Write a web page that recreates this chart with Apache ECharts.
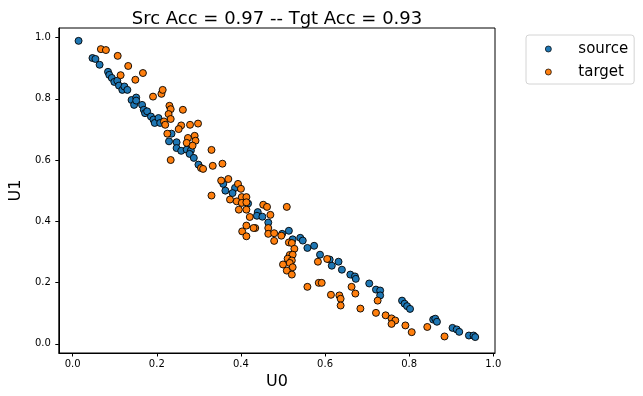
<!DOCTYPE html>
<html>
<head>
<meta charset="utf-8">
<script src="https://cdn.jsdelivr.net/npm/echarts@6/dist/echarts.min.js"></script>
<style>
html,body{margin:0;padding:0;background:#fff;}
#chart{width:643px;height:396px;}
</style>
</head>
<body>
<div id="chart"></div>
<script>
var titleText = 'Src Acc = 0.97 -- Tgt Acc = 0.93';
var seriesNames = ['source', 'target'];
var xTicks = [0.0, 0.2, 0.4, 0.6, 0.8, 1.0];
var yTicks = [0.0, 0.2, 0.4, 0.6, 0.8, 1.0];

var sourcePoints = [
[0.014,0.989],[0.047,0.933],[0.054,0.930],[0.064,0.911],[0.084,0.888],[0.087,0.878],
[0.093,0.868],[0.099,0.855],[0.106,0.859],[0.110,0.843],[0.118,0.829],[0.123,0.840],
[0.130,0.829],[0.140,0.796],[0.146,0.780],[0.151,0.804],[0.151,0.794],[0.165,0.780],
[0.169,0.764],[0.172,0.753],[0.177,0.759],[0.186,0.742],[0.192,0.732],[0.195,0.721],
[0.204,0.737],[0.208,0.721],[0.235,0.686],[0.229,0.661],[0.247,0.658],[0.247,0.639],
[0.258,0.630],[0.271,0.634],[0.281,0.631],[0.278,0.620],[0.288,0.607],[0.299,0.585],
[0.358,0.522],[0.386,0.509],[0.363,0.500],[0.380,0.492],[0.417,0.458],[0.440,0.430],
[0.438,0.418],[0.451,0.415],[0.465,0.396],[0.498,0.359],[0.514,0.369],[0.523,0.341],
[0.541,0.346],[0.547,0.337],[0.558,0.313],[0.574,0.320],[0.588,0.291],[0.611,0.275],
[0.616,0.255],[0.632,0.268],[0.640,0.242],[0.660,0.226],[0.671,0.220],[0.673,0.212],
[0.705,0.197],[0.721,0.177],[0.731,0.174],[0.731,0.158],[0.783,0.141],[0.789,0.131],
[0.795,0.123],[0.802,0.114],[0.857,0.079],[0.862,0.082],[0.866,0.072],[0.903,0.052],
[0.913,0.047],[0.919,0.039],[0.942,0.027],[0.953,0.027],[0.957,0.022]
];

var targetPoints = [
[0.067,0.962],[0.079,0.959],[0.107,0.940],[0.132,0.907],[0.167,0.884],[0.114,0.877],
[0.149,0.862],[0.191,0.807],[0.211,0.816],[0.214,0.829],[0.230,0.777],[0.233,0.766],
[0.228,0.750],[0.233,0.734],[0.217,0.726],[0.220,0.715],[0.262,0.764],[0.258,0.713],
[0.252,0.701],[0.279,0.715],[0.298,0.719],[0.225,0.686],[0.274,0.672],[0.290,0.679],
[0.292,0.663],[0.271,0.656],[0.285,0.647],[0.330,0.633],[0.233,0.600],[0.305,0.574],
[0.310,0.571],[0.333,0.581],[0.356,0.588],[0.353,0.533],[0.370,0.538],[0.393,0.522],
[0.400,0.506],[0.330,0.484],[0.374,0.471],[0.390,0.465],[0.402,0.479],[0.413,0.479],
[0.402,0.460],[0.413,0.462],[0.395,0.438],[0.413,0.438],[0.421,0.414],[0.453,0.454],
[0.462,0.447],[0.509,0.447],[0.470,0.421],[0.434,0.378],[0.465,0.378],[0.403,0.367],
[0.413,0.386],[0.430,0.378],[0.413,0.351],[0.465,0.359],[0.479,0.361],[0.479,0.336],
[0.496,0.353],[0.514,0.331],[0.521,0.329],[0.527,0.310],[0.516,0.290],[0.523,0.291],
[0.511,0.278],[0.521,0.272],[0.516,0.264],[0.500,0.259],[0.523,0.250],[0.509,0.239],
[0.521,0.226],[0.583,0.268],[0.605,0.277],[0.585,0.199],[0.592,0.199],[0.558,0.186],
[0.663,0.186],[0.672,0.164],[0.614,0.160],[0.634,0.158],[0.637,0.147],[0.725,0.141],
[0.637,0.125],[0.684,0.115],[0.721,0.101],[0.744,0.093],[0.758,0.083],[0.767,0.076],
[0.758,0.065],[0.791,0.060],[0.806,0.038],[0.843,0.055],[0.884,0.024]
];

var FONT = 'DejaVu Sans';
var chart = echarts.init(document.getElementById('chart'), null, {renderer: 'canvas'});
var fmt = function (v) { return Number(v).toFixed(1); };

chart.setOption({
  animation: false,
  backgroundColor: '#ffffff',
  title: {
    text: titleText,
    left: 272,
    top: 5,
    textAlign: 'center',
    textStyle: {fontFamily: FONT, fontSize: 18, fontWeight: 'normal', color: '#000'}
  },
  legend: {
    data: seriesNames,
    orient: 'vertical',
    left: 526,
    top: 35,
    padding: [4, 6, 2, 19],
    itemGap: 3,
    itemWidth: 6,
    itemHeight: 6,
    icon: 'circle',
    itemStyle: {borderColor: '#000', borderWidth: 0.7},
    borderColor: '#d4d4d4',
    borderWidth: 1,
    borderRadius: 3,
    textStyle: {fontFamily: FONT, fontSize: 15, color: '#000', lineHeight: 20, padding: [0, 0, 0, 22]}
  },
  grid: {
    left: 49, right: 148, top: 28, bottom: 43,
    show: true, borderColor: '#000', borderWidth: 1
  },
  xAxis: {
    type: 'value',
    min: -0.033, max: 1.004,
    name: 'U0',
    nameLocation: 'middle',
    nameGap: 19,
    nameTextStyle: {fontFamily: FONT, fontSize: 16, color: '#000'},
    axisLine: {show: true, onZero: false, lineStyle: {color: '#000', width: 1}},
    axisTick: {show: true, length: 3.5, inside: false, customValues: xTicks, lineStyle: {color: '#000', width: 1}},
    axisLabel: {show: true, customValues: xTicks, formatter: fmt, margin: 6, fontFamily: FONT, fontSize: 10, color: '#000'},
    splitLine: {show: false}
  },
  yAxis: {
    type: 'value',
    min: -0.030, max: 1.031,
    name: 'U1',
    nameLocation: 'middle',
    nameGap: 27,
    nameTextStyle: {fontFamily: FONT, fontSize: 16, color: '#000'},
    axisLine: {show: true, onZero: false, lineStyle: {color: '#000', width: 1}},
    axisTick: {show: true, length: 3.5, inside: false, customValues: yTicks, lineStyle: {color: '#000', width: 1}},
    axisLabel: {show: true, customValues: yTicks, formatter: fmt, margin: 8, fontFamily: FONT, fontSize: 10, color: '#000'},
    splitLine: {show: false}
  },
  series: [
    {
      name: seriesNames[0],
      type: 'scatter',
      data: sourcePoints,
      symbol: 'circle',
      symbolSize: 7,
      itemStyle: {color: '#1f77b4', borderColor: '#000', borderWidth: 0.9, opacity: 1}
    },
    {
      name: seriesNames[1],
      type: 'scatter',
      data: targetPoints,
      symbol: 'circle',
      symbolSize: 7,
      itemStyle: {color: '#ff7f0e', borderColor: '#000', borderWidth: 0.9, opacity: 1}
    }
  ]
});
</script>
</body>
</html>
